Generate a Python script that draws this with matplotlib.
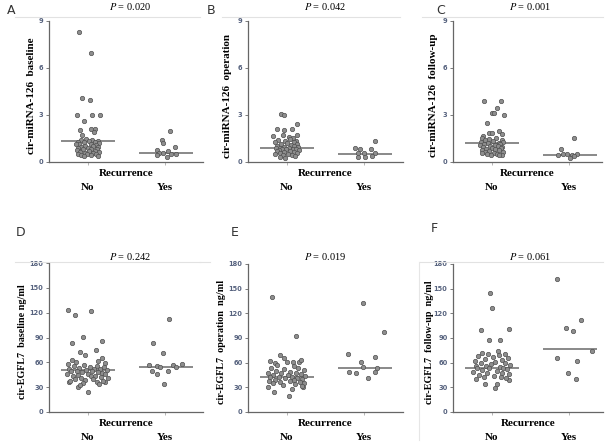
import numpy as np
import matplotlib
matplotlib.use('Agg')
import matplotlib.pyplot as plt
from matplotlib.lines import Line2D

W, H = 608, 447

categories = ['No', 'Yes']
panel_letters = ['A', 'B', 'C', 'D', 'E', 'F']
p_values = ['0.020', '0.042', '0.001', '0.242', '0.019', '0.061']
y_labels = ['cir-miRNA-126  baseline', 'cir-miRNA-126  operation', 'cir-miRNA-126  follow-up',
            'cir-EGFL7  baseline ng/ml', 'cir-EGFL7  operation  ng/ml', 'cir-EGFL7  follow-up  ng/ml']

# ---- A: miRNA-126 baseline
a_no_y = [8.3, 6.96, 4.07, 3.98, 3.02, 2.98, 3.02, 2.6, 2.07, 2.13, 2.09, 1.91, 1.75,
          1.45, 1.42, 1.38, 1.35, 1.33, 1.30, 1.28, 1.26, 1.22, 1.18, 1.15, 1.12, 1.08, 1.05,
          1.02, 0.98, 0.95, 0.92, 0.88, 0.85, 0.82, 0.80, 0.76, 0.73, 0.70, 0.66, 0.63, 0.60,
          0.57, 0.54, 0.51, 0.48, 0.45, 0.42, 0.39, 0.36]
a_no_dx = [-0.115, 0.04, -0.077, 0.026, -0.137, 0.055, 0.16, -0.047, -0.1, 0.04, 0.1, 0.08, -0.077,
           -0.02, 0.06, -0.09, 0.13, 0.02, -0.13, 0.09, -0.05, 0.15, -0.11, 0.04, -0.15, 0.11, -0.03,
           0.07, -0.08, 0.14, 0.00, -0.12, 0.05, 0.12, -0.06, -0.14, 0.09, 0.02, -0.10, 0.15, -0.04,
           0.07, -0.13, 0.11, -0.01, -0.08, 0.05, 0.13, -0.05]
a_yes_y = [1.96, 1.43, 1.21, 0.79, 0.96, 0.70, 0.57, 0.57, 0.43, 0.32, 0.53, 0.53]
a_yes_dx = [0.064, -0.04, -0.03, -0.1, 0.13, 0.04, -0.08, -0.02, -0.1, 0.03, 0.08, 0.145]
a_median = [1.32, 0.60]

# ---- B: miRNA-126 operation
b_no_y = [3.09, 2.98, 2.45, 2.13, 2.13, 2.02, 1.75, 1.64, 1.75, 1.6, 1.56,
          1.45, 1.4, 1.36, 1.32, 1.28, 1.25, 1.2, 1.16, 1.12, 1.08, 1.05, 1.02, 0.98, 0.95,
          0.92, 0.9, 0.88, 0.86, 0.84, 0.82, 0.8, 0.78, 0.75, 0.72, 0.7, 0.67, 0.64, 0.6,
          0.57, 0.54, 0.5, 0.46, 0.42, 0.38, 0.32, 0.25]
b_no_dx = [-0.07, -0.03, 0.14, -0.12, 0.07, -0.03, 0.13, -0.17, -0.05, 0.03, 0.08,
           0.05, -0.11, 0.12, -0.02, 0.09, -0.15, 0.01, 0.14, -0.07, 0.06, -0.12, 0.10,
           -0.04, 0.15, -0.09, 0.03, -0.14, 0.08, -0.01, 0.12, -0.06, 0.16, -0.10, 0.04,
           -0.13, 0.09, -0.03, 0.13, -0.08, 0.02, -0.15, 0.07, -0.05, 0.11, -0.09, -0.02]
b_yes_y = [1.34, 0.91, 0.83, 0.83, 0.59, 0.59, 0.60, 0.34, 0.30, 0.38]
b_yes_dx = [0.145, -0.12, -0.05, 0.09, -0.08, 0.0, 0.15, -0.07, 0.02, 0.1]
b_median = [0.87, 0.52]

# ---- C: miRNA-126 follow-up
c_no_y = [3.88, 3.88, 3.43, 3.13, 3.13, 2.98, 2.51, 1.85, 1.85, 1.96, 1.81, 1.64,
          1.55, 1.5, 1.45, 1.42, 1.38, 1.34, 1.3, 1.27, 1.24, 1.2, 1.16, 1.13, 1.1, 1.06,
          1.03, 1.0, 0.97, 0.94, 0.9, 0.87, 0.84, 0.8, 0.77, 0.74, 0.7, 0.67, 0.64, 0.6,
          0.57, 0.54, 0.5, 0.47, 0.45, 0.43]
c_no_dx = [-0.1, 0.12, 0.07, 0.0, 0.035, 0.16, -0.06, -0.035, 0.004, 0.095, 0.14, -0.115,
           -0.12, 0.06, -0.03, 0.13, -0.08, 0.02, 0.15, -0.14, 0.09, -0.05, 0.11, -0.1,
           0.04, -0.15, 0.08, -0.02, 0.14, -0.11, 0.01, 0.12, -0.07, 0.05, -0.13, 0.1,
           -0.04, 0.15, -0.09, 0.03, -0.12, 0.07, -0.06, 0.13, -0.01, 0.09]
c_yes_y = [1.56, 0.83, 0.46, 0.48, 0.50, 0.45, 0.50, 0.28, 0.36]
c_yes_dx = [0.065, -0.095, -0.14, -0.08, -0.02, 0.04, 0.11, 0.01, 0.065]
c_median = [1.24, 0.47]

# ---- D: EGFL7 baseline
d_no_y = [123.2, 117.2, 122, 91, 83, 86, 75, 72.9, 68.9, 62.8, 60.8, 64.8, 61.6, 58.8, 58,
          29.8, 24.6, 36.6, 36.6,
          57, 56, 55, 54.5, 54, 53, 52.5, 52, 51.5, 51, 50.5, 50, 49.5, 49, 48.5, 48, 47,
          46.5, 46, 45.5, 45, 44, 43.5, 43, 42, 41.5, 41, 40, 39.5, 39, 38, 37, 36, 35, 34, 33]
d_no_dx = [-0.25, -0.16, 0.05, -0.06, -0.2, 0.18, 0.11, -0.1, -0.03, -0.2, -0.15, 0.19, 0.13, 0.23, -0.26,
           -0.13, 0.01, -0.24, 0.22,
           -0.05, 0.12, -0.18, 0.03, 0.21, -0.11, 0.08, -0.24, 0.16, -0.02, 0.25, -0.14, 0.06,
           -0.21, 0.14, -0.07, 0.19, -0.27, 0.01, 0.23, -0.12, 0.10, -0.19, 0.04, 0.17, -0.09,
           0.26, -0.16, 0.07, -0.03, 0.20, -0.23, 0.12, -0.06, 0.15, -0.1]
d_yes_y = [112.3, 83, 70.9, 56.8, 56, 54.8, 56.8, 57.5, 54.5, 49.5, 45.9, 49.5, 33.4]
d_yes_dx = [0.055, -0.15, -0.02, -0.2, -0.1, -0.06, 0.11, 0.22, 0.15, -0.17, -0.1, 0.04, -0.01]
d_median = [50.7, 54.8]

# ---- E: EGFL7 operation
e_no_y = [140.2, 92.8, 69.3, 66, 62.4, 60, 60.4, 60.4, 60.4, 63, 30, 24.7, 19.5, 27.6, 30.8,
          57, 55.5, 54, 53, 52, 51, 50, 49, 48, 47.5, 47, 46, 45, 44.5, 44, 43, 42.5, 42, 41.5,
          41, 40, 39.5, 39, 38, 37.5, 37, 36, 35.5, 35, 34, 33, 32]
e_no_dx = [-0.19, 0.12, -0.08, -0.04, -0.22, -0.15, 0.0, 0.08, 0.16, 0.19, -0.24, -0.16, 0.03, 0.07, 0.21,
           -0.12, 0.09, -0.2, 0.15, -0.03, 0.22, -0.14, 0.05, -0.24, 0.12, -0.07, 0.18, -0.17, 0.02,
           0.24, -0.1, 0.07, -0.21, 0.14, -0.02, 0.2, -0.15, 0.1, -0.23, 0.04, 0.17, -0.08, 0.23,
           -0.18, 0.11, -0.05, 0.2]
e_yes_y = [132.2, 97.7, 70.2, 66.5, 61.2, 55.1, 53.1, 49, 47, 48.2, 41]
e_yes_dx = [-0.01, 0.26, -0.2, 0.15, -0.04, -0.01, 0.17, -0.19, -0.1, 0.15, 0.06]
e_median = [42.2, 54.0]

# ---- F: EGFL7 follow-up
f_no_y = [144.3, 126.1, 99.7, 101.3, 87.2, 87.2, 56, 33.7, 29.6, 33.7, 40.1, 38.9,
          74, 72, 71, 70, 69, 68, 67, 66, 64, 63, 62, 61, 60, 59, 58, 57, 56, 55, 54, 53.5,
          53, 52, 51, 50, 49, 48, 47, 46, 45, 44, 43, 42, 41]
f_no_dx = [-0.02, 0.0, -0.14, 0.23, -0.03, 0.11, -0.2, -0.08, 0.05, 0.07, -0.2, 0.23,
           0.08, -0.12, 0.17, -0.05, 0.1, -0.18, 0.02, 0.21, -0.09, 0.13, -0.22, 0.05, 0.18,
           -0.14, -0.01, 0.24, -0.07, 0.11, -0.19, 0.15, -0.03, 0.2, -0.12, 0.07, -0.24, 0.14,
           -0.06, 0.22, -0.16, 0.03, 0.12, -0.1, 0.19]
f_yes_y = [161.8, 111.9, 101.8, 98.5, 74.6, 65.7, 61.6, 47, 39.8]
f_yes_dx = [-0.15, 0.16, -0.03, 0.05, 0.3, -0.15, 0.11, -0.01, 0.09]
f_median = [53.9, 76.6]

no_y = [a_no_y, b_no_y, c_no_y, d_no_y, e_no_y, f_no_y]
no_dx = [a_no_dx, b_no_dx, c_no_dx, d_no_dx, e_no_dx, f_no_dx]
yes_y = [a_yes_y, b_yes_y, c_yes_y, d_yes_y, e_yes_y, f_yes_y]
yes_dx = [a_yes_dx, b_yes_dx, c_yes_dx, d_yes_dx, e_yes_dx, f_yes_dx]
medians = [a_median, b_median, c_median, d_median, e_median, f_median]

# layout in pixels: left, top, right, bottom of each axes
boxes = [(49, 21, 203, 162), (248, 21, 403, 162), (453, 21, 602, 162),
         (49, 263, 203, 412), (248, 264, 403, 412), (453, 264, 603, 412)]
letter_pos = [(7, 11), (207, 11), (436, 11), (16, 233), (231, 233), (431, 229)]
title_pos = [(130, 6), (325, 6), (530, 6), (130, 257), (325, 257), (530, 257)]
ylabel_x = [32, 227, 433, 23, 222, 429]

serif = 'Liberation Serif'
tick_col = '#56627e'

fig = plt.figure(figsize=(W / 100, H / 100), dpi=100)
fig.patch.set_facecolor('white')


def fx(x):
    return x / W


def fy(y):
    return 1 - y / H


# faint border lines left over from the original figure
for (y0, x0, x1) in [(17, 15, 200), (17, 222, 400), (17, 422, 603),
                     (262, 15, 200), (262, 200, 210), (262, 420, 603)]:
    fig.add_artist(Line2D([fx(x0), fx(x1)], [fy(y0), fy(y0)], color='#e2e2e2', lw=0.8))
fig.add_artist(Line2D([fx(419), fx(419)], [fy(262), fy(440)], color='#e6e6e6', lw=0.8))

for i in range(6):
    l, t, r, b = boxes[i]
    ax = fig.add_axes([fx(l), fy(b), fx(r - l), (b - t) / H])
    top_row = i < 3
    ax.set_xlim(0.5, 2 + (r - l) / 78 - 1.5 + 0.02)

    x_no = [1 + d for d in no_dx[i]]
    x_yes = [2 + d for d in yes_dx[i]]
    ax.scatter(x_no, no_y[i], s=10, c='#8e8e8e', edgecolors='#505050', linewidths=0.5, zorder=3)
    ax.scatter(x_yes, yes_y[i], s=10, c='#8e8e8e', edgecolors='#505050', linewidths=0.5, zorder=3)
    ax.hlines(medians[i][0], 1 - 0.34, 1 + 0.36, color='#6a6a6a', lw=1.1, zorder=2)
    ax.hlines(medians[i][1], 2 - 0.34, 2 + 0.36, color='#6a6a6a', lw=1.1, zorder=2)

    if top_row:
        ax.set_ylim(0, 9)
        ax.set_yticks([0, 3, 6, 9])
    else:
        ax.set_ylim(0, 180)
        ax.set_yticks(range(0, 181, 30))

    ax.set_xticks([1, 2])
    ax.set_xticklabels(['', ''])
    ax.tick_params(axis='x', length=2, width=0.5, color='#999999')
    ax.tick_params(axis='y', length=2.5, width=0.6, color='#666666', pad=1.5,
                   labelsize=4.8, labelcolor=tick_col)
    for lab in ax.get_yticklabels():
        lab.set_fontweight('bold')

    for s in ['top', 'right']:
        ax.spines[s].set_visible(False)
    for s in ['left', 'bottom']:
        ax.spines[s].set_color('#666666')
        ax.spines[s].set_linewidth(0.9)

    # texts
    xc = (l + r) / 2
    fig.text(fx(letter_pos[i][0]), fy(letter_pos[i][1]), panel_letters[i],
             fontsize=9, color='#333333', ha='left', va='center', family='DejaVu Sans')
    fig.text(fx(title_pos[i][0]), fy(title_pos[i][1]),
             r'$\mathit{P}$' + ' = ' + p_values[i], fontsize=7.5, ha='center', va='center',
             family=serif, math_fontfamily='stix')
    fig.text(fx(ylabel_x[i]), fy((t + b) / 2 + 4), y_labels[i], rotation=90,
             fontsize=8 if top_row else 7.3,
             fontweight='bold', family=serif, ha='center', va='center')
    fig.text(fx(xc), fy(b + 12), 'Recurrence', fontsize=8, fontweight='bold', family=serif,
             ha='center', va='center')
    for k, cat in enumerate(categories):
        xp = ax.transData.transform((k + 1, 0))[0]
        fig.text(xp / fig.dpi / fig.get_figwidth(), fy(b + 26), cat, fontsize=8,
                 fontweight='bold', family=serif, ha='center', va='center')

fig.savefig('out.png', dpi=100, facecolor='white')
